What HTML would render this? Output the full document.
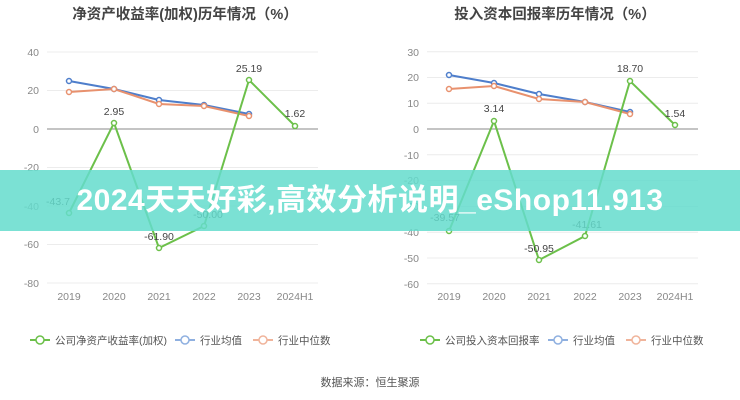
<!DOCTYPE html><html><head><meta charset="utf-8"><style>
body{margin:0;width:740px;height:400px;background:#fff;overflow:hidden;position:relative;font-family:"Liberation Sans","Noto Sans CJK SC",sans-serif}
svg{position:absolute;left:0;top:0}
.banner{position:absolute;left:0;top:170px;width:740px;height:61px;background:rgba(100,220,205,0.85);color:#fff;font-weight:bold;font-size:30px;line-height:61px;text-align:center;letter-spacing:0.5px;white-space:nowrap}
</style></head><body>
<svg width="740" height="400" font-family="Liberation Sans, Noto Sans CJK SC, sans-serif">
<text x="185" y="19" text-anchor="middle" font-size="14.5" font-weight="bold" fill="#444">净资产收益率(加权)历年情况（%）</text>
<text x="555" y="19" text-anchor="middle" font-size="14.5" font-weight="bold" fill="#444">投入资本回报率历年情况（%）</text>
<g stroke="#ececec" stroke-width="1">
<line x1="47" x2="318" y1="52" y2="52"/><line x1="47" x2="318" y1="90.5" y2="90.5"/><line x1="47" x2="318" y1="167.5" y2="167.5"/><line x1="47" x2="318" y1="206" y2="206"/><line x1="47" x2="318" y1="244.5" y2="244.5"/><line x1="47" x2="318" y1="283" y2="283"/>
<line x1="427" x2="698" y1="51.7" y2="51.7"/><line x1="427" x2="698" y1="77.5" y2="77.5"/><line x1="427" x2="698" y1="103.2" y2="103.2"/><line x1="427" x2="698" y1="154.8" y2="154.8"/><line x1="427" x2="698" y1="180.6" y2="180.6"/><line x1="427" x2="698" y1="206.4" y2="206.4"/><line x1="427" x2="698" y1="232.2" y2="232.2"/><line x1="427" x2="698" y1="258" y2="258"/><line x1="427" x2="698" y1="283.8" y2="283.8"/>
</g>
<line x1="47" x2="318" y1="129" y2="129" stroke="#888"/><line x1="427" x2="698" y1="129" y2="129" stroke="#888"/>
<g font-size="10.5" fill="#888" text-anchor="end">
<text x="39" y="56">40</text><text x="39" y="94">20</text><text x="39" y="133">0</text><text x="39" y="171">-20</text><text x="39" y="210">-40</text><text x="39" y="248">-60</text><text x="39" y="287">-80</text>
<text x="419" y="56">30</text><text x="419" y="81">20</text><text x="419" y="107">10</text><text x="419" y="133">0</text><text x="419" y="159">-10</text><text x="419" y="184">-20</text><text x="419" y="210">-30</text><text x="419" y="236">-40</text><text x="419" y="262">-50</text><text x="419" y="288">-60</text>
</g>
<g font-size="10.5" fill="#888" text-anchor="middle">
<text x="69" y="300">2019</text><text x="114" y="300">2020</text><text x="159" y="300">2021</text><text x="204" y="300">2022</text><text x="249" y="300">2023</text><text x="295" y="300">2024H1</text>
<text x="449" y="300">2019</text><text x="494" y="300">2020</text><text x="539" y="300">2021</text><text x="585" y="300">2022</text><text x="630" y="300">2023</text><text x="675" y="300">2024H1</text>
</g>
<g fill="none" stroke-width="2">
<polyline stroke="#4e7ecb" points="69,81 114,89 159,100 204,105 249,114"/>
<polyline stroke="#e8916e" points="69,92 114,89 159,104 204,106 249,116"/>
<polyline stroke="#6cc04a" points="69,213 114,123 159,248 204,226 249,80 295,126"/>
<polyline stroke="#4e7ecb" points="449,75 494,83 539,94 585,102 630,112"/>
<polyline stroke="#e8916e" points="449,89 494,86 539,99 585,102 630,114"/>
<polyline stroke="#6cc04a" points="449,231 494,121 539,260 585,236 630,81 675,125"/>
</g>
<g fill="#fff" stroke-width="1.5">
<g stroke="#4e7ecb"><circle cx="69" cy="81" r="2.5"/><circle cx="114" cy="89" r="2.5"/><circle cx="159" cy="100" r="2.5"/><circle cx="204" cy="105" r="2.5"/><circle cx="249" cy="114" r="2.5"/><circle cx="449" cy="75" r="2.5"/><circle cx="494" cy="83" r="2.5"/><circle cx="539" cy="94" r="2.5"/><circle cx="585" cy="102" r="2.5"/><circle cx="630" cy="112" r="2.5"/></g>
<g stroke="#e8916e"><circle cx="69" cy="92" r="2.5"/><circle cx="114" cy="89" r="2.5"/><circle cx="159" cy="104" r="2.5"/><circle cx="204" cy="106" r="2.5"/><circle cx="249" cy="116" r="2.5"/><circle cx="449" cy="89" r="2.5"/><circle cx="494" cy="86" r="2.5"/><circle cx="539" cy="99" r="2.5"/><circle cx="585" cy="102" r="2.5"/><circle cx="630" cy="114" r="2.5"/></g>
<g stroke="#6cc04a"><circle cx="69" cy="213" r="2.5"/><circle cx="114" cy="123" r="2.5"/><circle cx="159" cy="248" r="2.5"/><circle cx="204" cy="226" r="2.5"/><circle cx="249" cy="80" r="2.5"/><circle cx="295" cy="126" r="2.5"/><circle cx="449" cy="231" r="2.5"/><circle cx="494" cy="121" r="2.5"/><circle cx="539" cy="260" r="2.5"/><circle cx="585" cy="236" r="2.5"/><circle cx="630" cy="81" r="2.5"/><circle cx="675" cy="125" r="2.5"/></g>
</g>
<g font-size="10.5" fill="#444" text-anchor="middle">
<text x="114" y="115">2.95</text><text x="249" y="72">25.19</text><text x="295" y="117">1.62</text><text x="159" y="240">-61.90</text><text x="58" y="205">-43.7</text><text x="208" y="218">-50.00</text>
<text x="494" y="112">3.14</text><text x="630" y="72">18.70</text><text x="675" y="117">1.54</text><text x="539" y="252">-50.95</text><text x="445" y="221">-39.57</text><text x="587" y="228">-41.61</text>
</g>
<g font-size="10.5" fill="#555">
<line x1="30" x2="50" y1="340" y2="340" stroke="#6cc04a" stroke-width="2"/><circle cx="40" cy="340" r="4" fill="#fff" stroke="#6cc04a" stroke-width="1.5"/><text x="55" y="344">公司净资产收益率(加权)</text>
<line x1="175" x2="195" y1="340" y2="340" stroke="#8fb0e0" stroke-width="2"/><circle cx="185" cy="340" r="4" fill="#fff" stroke="#8fb0e0" stroke-width="1.5"/><text x="200" y="344">行业均值</text>
<line x1="253" x2="273" y1="340" y2="340" stroke="#f0b49b" stroke-width="2"/><circle cx="263" cy="340" r="4" fill="#fff" stroke="#f0b49b" stroke-width="1.5"/><text x="278" y="344">行业中位数</text>
<line x1="420" x2="440" y1="340" y2="340" stroke="#6cc04a" stroke-width="2"/><circle cx="430" cy="340" r="4" fill="#fff" stroke="#6cc04a" stroke-width="1.5"/><text x="445" y="344">公司投入资本回报率</text>
<line x1="548" x2="568" y1="340" y2="340" stroke="#8fb0e0" stroke-width="2"/><circle cx="558" cy="340" r="4" fill="#fff" stroke="#8fb0e0" stroke-width="1.5"/><text x="573" y="344">行业均值</text>
<line x1="626" x2="646" y1="340" y2="340" stroke="#f0b49b" stroke-width="2"/><circle cx="636" cy="340" r="4" fill="#fff" stroke="#f0b49b" stroke-width="1.5"/><text x="651" y="344">行业中位数</text>
</g>
<text x="370" y="386" text-anchor="middle" font-size="11" fill="#555">数据来源：恒生聚源</text>
</svg>
<div class="banner">2024天天好彩,高效分析说明_eShop11.913</div>
</body></html>
